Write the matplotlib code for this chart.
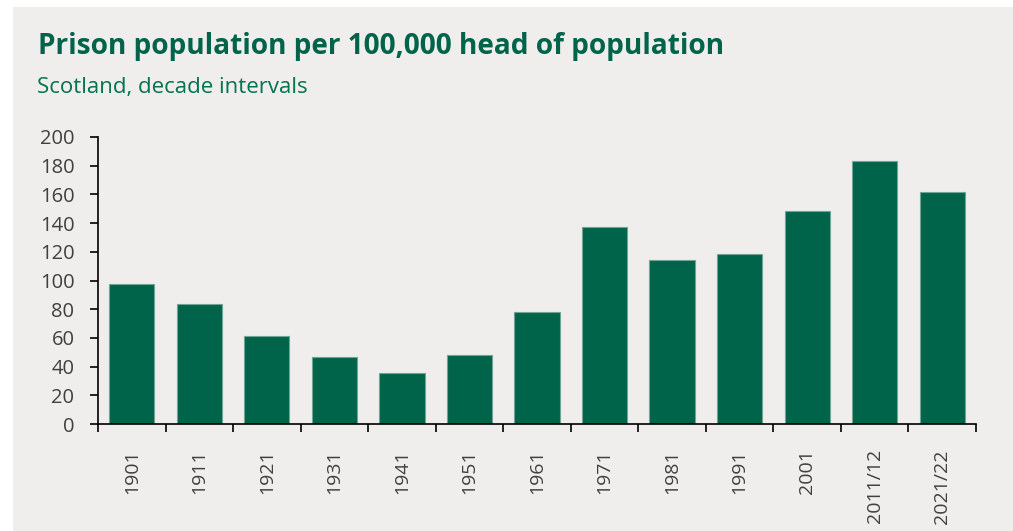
import matplotlib
matplotlib.use("Agg")
import matplotlib.pyplot as plt
from matplotlib.patches import Rectangle

# Data
years = ["1901", "1911", "1921", "1931", "1941", "1951", "1961",
         "1971", "1981", "1991", "2001", "2011/12", "2021/22"]
rate_per_100k = [97.3, 83.6, 61.0, 46.5, 35.5, 48.3, 77.8,
                 137.3, 114.0, 118.8, 148.3, 183.5, 162.0]
y_ticks = [0, 20, 40, 60, 80, 100, 120, 140, 160, 180, 200]

title = "Prison population per 100,000 head of population"
subtitle = "Scotland, decade intervals"

GREEN = "#00644a"
BG = "#efeeed"
TEXT = "#404040"

W, H = 1013, 531
fig = plt.figure(figsize=(W / 100, H / 100), dpi=100)
fig.patch.set_facecolor("white")
fig.patches.append(Rectangle((13 / W, 0), 1 - 13 / W, 1 - 7 / H,
                             transform=fig.transFigure, facecolor=BG,
                             edgecolor="none", zorder=-10))

ax = fig.add_axes([98 / W, (H - 424) / H, (976 - 98) / W, (424 - 137) / H])
ax.set_facecolor("none")

x = range(len(years))
ax.bar(x, rate_per_100k, width=0.67, color=GREEN,
       edgecolor="#6fa595", linewidth=0.8)

ax.set_xlim(-0.5, len(years) - 0.5)
ax.set_ylim(0, 200)
ax.set_yticks(y_ticks)
ax.set_yticklabels([str(v) for v in y_ticks], fontsize=14.5,
                   family="Open Sans", color=TEXT)

# category labels centred, ticks at category boundaries
ax.set_xticks(list(x))
ax.set_xticklabels(years, rotation=90, fontsize=14,
                   family="Open Sans", color=TEXT)
ax.tick_params(axis="x", which="major", length=0, pad=18)
ax.set_xticks([i - 0.5 for i in range(len(years) + 1)], minor=True)
ax.tick_params(axis="x", which="minor", length=6, width=1.2,
               color="black", direction="out")
ax.tick_params(axis="y", length=6, width=1.2, color="black",
               direction="out", pad=11)

for side in ("top", "right"):
    ax.spines[side].set_visible(False)
for side in ("left", "bottom"):
    ax.spines[side].set_linewidth(1.2)
    ax.spines[side].set_color("black")

fig.text(38 / W, (H - 54) / H, title, fontsize=20.2, fontweight="bold",
         family="Open Sans", color="#00634a", va="baseline", ha="left")
fig.text(37 / W, (H - 93) / H, subtitle, fontsize=16,
         family="Open Sans", color="#00734f", va="baseline", ha="left")

fig.savefig("out.png", dpi=100, facecolor=fig.get_facecolor())
